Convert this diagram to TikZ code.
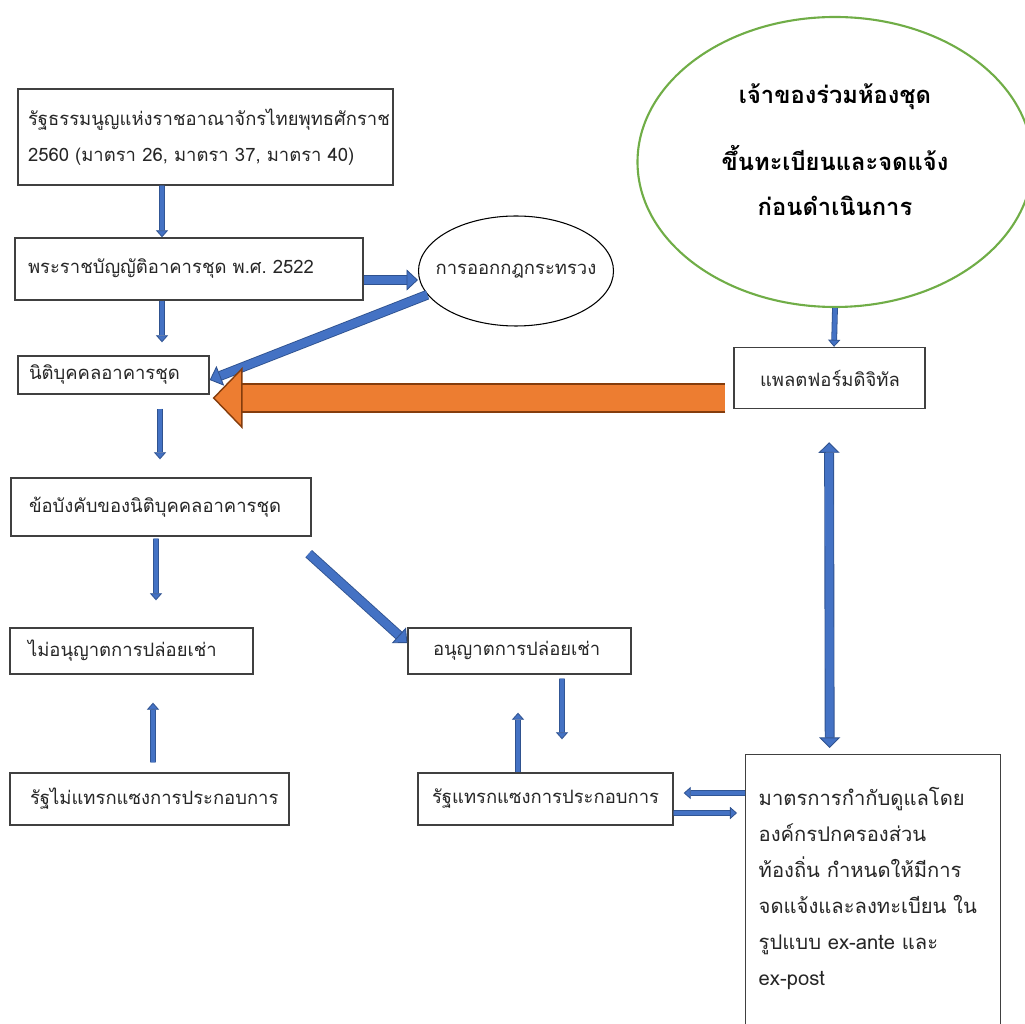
\documentclass[tikz,border=0pt]{standalone}
\usepackage{fontspec}
\setmainfont[Script=Thai]{Loma}
\usetikzlibrary{shapes.geometric, arrows.meta}
\frenchspacing

\definecolor{arrowblue}{HTML}{4472C4}
\definecolor{arrowedge}{HTML}{2F528F}
\definecolor{bigorange}{HTML}{ED7D31}
\definecolor{orangeedge}{HTML}{843C0C}
\definecolor{ringgreen}{HTML}{70AD47}
\definecolor{boxline}{HTML}{404040}

\newcommand\boxtext{\fontsize{10.5pt}{20.4pt}\selectfont}
\newcommand\ownertext{\fontsize{13.5pt}{25.5pt}\selectfont\bfseries}
\newcommand\meastext{\fontsize{11.5pt}{20.4pt}\selectfont}

\tikzset{
    box/.style={
        rectangle, draw=boxline, line width=0.8pt,
        fill=white, align=left, inner ysep=0pt,
        text=black!85, font=\boxtext
    },
    regul/.style={
        ellipse, draw=black, line width=0.6pt,
        minimum width=3.9cm, minimum height=2.2cm,
        inner sep=0pt, text=black!85, font=\boxtext
    },
    owners/.style={
        ellipse, draw=ringgreen, line width=1.2pt,
        minimum width=7.9cm, minimum height=5.8cm,
        inner sep=0pt, align=center, font=\ownertext
    },
    thinarrow/.style={draw=arrowedge, line width=0.45pt, double=arrowblue,
        double distance=2.4pt,
        -{Triangle[length=4pt,width=7pt,fill=arrowblue,line width=0.45pt]}},
    widearrow/.style={draw=arrowedge, line width=0.5pt, double=arrowblue,
        double distance=4.6pt,
        -{Triangle[length=6.5pt,width=12pt,fill=arrowblue,line width=0.5pt]}},
    bigarrow/.style={draw=orangeedge, line width=0.8pt, double=bigorange,
        double distance=15.3pt,
        -{Triangle[length=17pt,width=35pt,fill=bigorange,line width=0.8pt]}}
}

\begin{document}
\begin{tikzpicture}
\useasboundingbox (0,0) rectangle (20.5,20.46);
\clip (0,0) rectangle (20.5,20.46);

% Legal basis
\node[box, text width=7.1cm, inner xsep=0.2cm, minimum height=1.92cm] (consti) at (4.11,17.72) {รัฐธรรมนูญแห่งราชอาณาจักรไทยพุทธศักราช\\2560 (มาตรา 26, มาตรา 37, มาตรา 40)};
\node[box, text width=6.44cm, inner xsep=0.26cm, minimum height=1.24cm] (condoact) at (3.78,15.08) {พระราชบัญญัติอาคารชุด พ.ศ. 2522};
\node[regul] (decree) at (10.32,15.04) {\makebox[0pt]{การออกกฎกระทรวง}};

% Juristic person
\node[box, text width=3.38cm, inner xsep=0.22cm, minimum height=0.76cm] (juristic) at (2.27,12.96) {นิติบุคคลอาคารชุด};
\node[box, text width=5.28cm, inner xsep=0.36cm, minimum height=1.16cm] (bylaw) at (3.22,10.32) {ข้อบังคับของนิติบุคคลอาคารชุด};

% Rental decision
\node[box, text width=4.14cm, inner xsep=0.36cm, minimum height=0.92cm] (norent) at (2.63,7.44) {ไม่อนุญาตการปล่อยเช่า};
\node[box, text width=3.46cm, inner xsep=0.5cm, minimum height=0.92cm] (rent) at (10.39,7.44) {อนุญาตการปล่อยเช่า};
\node[box, text width=4.78cm, inner xsep=0.4cm, minimum height=1.04cm] (nointerv) at (2.99,4.48) {รัฐไม่แทรกแซงการประกอบการ};
\node[box, text width=4.54cm, inner xsep=0.28cm, minimum height=1.04cm] (interv) at (10.91,4.48) {รัฐแทรกแซงการประกอบการ};

% Owners, platform, local measures
\node[owners] (owners) at (16.7,17.22) {เจ้าของร่วมห้องชุด\\[0.44cm]ขึ้นทะเบียนและจดแจ้ง\\ก่อนดำเนินการ\\[-0.4cm]\mbox{}};
\node[box, text width=2.78cm, inner xsep=0.52cm, minimum height=1.22cm] (platform) at (16.59,12.90) {แพลตฟอร์มดิจิทัล};
\node[box, anchor=north west, text width=4.58cm, inner xsep=0.26cm, inner ysep=0.66cm, text depth=4.6cm, font=\meastext] (local) at (14.9,5.38) {มาตรการกำกับดูแลโดย\\องค์กรปกครองส่วน\\ท้องถิ่น กำหนดให้มีการ\\จดแจ้งและลงทะเบียน ใน\\รูปแบบ ex-ante และ\\ex-post};

% Legal chain
\draw[thinarrow] ([xshift=-0.87cm]consti.south) -- ([xshift=-0.54cm]condoact.north);
\draw[widearrow] ([yshift=-0.22cm]condoact.east) -- ([yshift=-0.18cm]decree.west);
\draw[thinarrow, shorten >=0.26cm] ([xshift=-0.54cm]condoact.south) -- ([xshift=0.97cm]juristic.north);
\draw[widearrow] (decree.195) -- ([yshift=-0.1cm]juristic.east);
\draw[thinarrow, shorten <=0.28cm, shorten >=0.36cm] ([xshift=0.93cm]juristic.south) -- ([xshift=-0.02cm]bylaw.north);

% Bylaw outcomes
\draw[thinarrow, shorten <=0.04cm, shorten >=0.54cm] ([xshift=-0.1cm]bylaw.south) -- ([xshift=0.49cm]norent.north);
\draw[widearrow] ([shift={(-0.06cm,-0.34cm)}]bylaw.south east) -- ([yshift=0.16cm]rent.west);
\draw[thinarrow, shorten <=0.2cm, shorten >=0.56cm] ([xshift=0.07cm]nointerv.north) -- ([xshift=0.43cm]norent.south);
\draw[thinarrow, shorten <=0.08cm, shorten >=0.66cm] ([xshift=0.85cm]rent.south) -- ([xshift=0.33cm]interv.north);
\draw[thinarrow, shorten >=0.76cm] ([xshift=-0.55cm]interv.north) -- ([xshift=-0.03cm]rent.south);

% Local measures
\draw[thinarrow, shorten >=0.2cm] ([yshift=-0.78cm]local.north west) -- ([yshift=0.12cm]interv.east);
\draw[thinarrow, shorten >=0.16cm] ([yshift=-0.28cm]interv.east) -- ([yshift=-1.18cm]local.north west);
\draw[thinarrow] (owners.south) -- ([xshift=0.09cm]platform.north);
\draw[widearrow, {Triangle[length=6pt,width=12pt,fill=arrowblue,line width=0.5pt]}-{Triangle[length=6pt,width=12pt,fill=arrowblue,line width=0.5pt]}, shorten <=0.66cm, shorten >=0.12cm] ([xshift=-0.01cm]platform.south) -- ([xshift=-0.87cm]local.north);

% Platform to juristic person
\draw[bigarrow] ([shift={(-0.16cm,-0.4cm)}]platform.west) -- ([shift={(0.06cm,-0.46cm)}]juristic.east);

\end{tikzpicture}
\end{document}
